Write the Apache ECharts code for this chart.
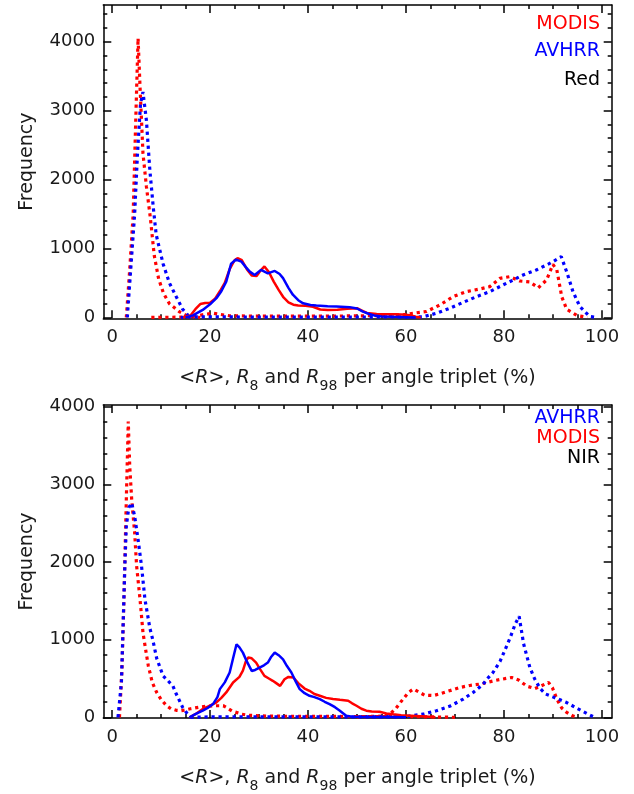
<!DOCTYPE html>
<html><head><meta charset="utf-8">
<script src="https://cdn.jsdelivr.net/npm/echarts@6/dist/echarts.min.js"></script>
<style>html,body{margin:0;padding:0;background:#fff}#c{width:634px;height:794px}</style>
</head><body><div id="c"></div><script>
// ---------- tick values ----------
const xMajorTicks = [0, 20, 40, 60, 80, 100];
const xMinorTicks = [5, 10, 15, 25, 30, 35, 45, 50, 55, 65, 70, 75, 85, 90, 95];
const yMajorTicks = [0, 1000, 2000, 3000, 4000];
const yMinorTicksTop = [200, 400, 600, 800, 1200, 1400, 1600, 1800, 2200, 2400, 2600, 2800, 3200, 3400, 3600, 3800, 4200, 4400];
const yMinorTicksBot = [200, 400, 600, 800, 1200, 1400, 1600, 1800, 2200, 2400, 2600, 2800, 3200, 3400, 3600, 3800];

// ---------- top panel (Red band) ----------
const topModisMean = [[14.5,0],[16,30],[17,120],[18,195],[19,210],[20,215],[21,270],[22,380],[23,500],[24,700],[25,830],[25.6,860],[26.5,830],[27.5,700],[28.5,610],[29.5,600],[30.3,680],[31.1,740],[32,660],[33,520],[34,400],[35,290],[36,220],[37,185],[38,175],[39.5,170],[41,155],[42.5,115],[44,108],[46,112],[48,125],[50,135],[51,100],[52,65],[54,50],[56,45],[58,48],[60,40],[61,30],[62,10],[63,0]];
const topAvhrrMean = [[15,0],[16.5,30],[18.5,110],[20,190],[21.3,280],[22.3,380],[23.3,520],[24.3,780],[25.3,840],[26.4,810],[27.3,730],[28.1,665],[29.1,615],[30.4,690],[31.8,640],[33.2,675],[34.2,630],[34.9,570],[36,430],[36.9,330],[38,250],[39,205],[40.5,180],[41.7,172],[44,162],[45.8,160],[48.5,150],[50,130],[51.2,85],[52.5,50],[53.5,30],[55,15],[57,10],[60,5],[62,0]];
const topModisR8 = [[2.9,0],[3.6,700],[4.3,1500],[4.8,2800],[5.3,4050],[5.7,3340],[6.3,2380],[7.0,1900],[7.8,1450],[8.6,900],[9.5,560],[10.5,350],[11.7,200],[13.8,80],[15,35],[16.5,10],[18,0]];
const topAvhrrR8 = [[3.1,0],[3.8,700],[4.6,1500],[5.2,2400],[5.8,3100],[6.3,3270],[7.0,2860],[7.7,2140],[8.4,1600],[9.0,1200],[10.4,780],[11.7,500],[13.1,300],[14.4,120],[15.5,30],[16.5,0]];
const topModisR98 = [[8,0],[14,5],[17,20],[19,45],[20.6,62],[22,45],[24,25],[28,20],[35,20],[45,20],[52,25],[57,30],[59.5,40],[61.4,61],[64.2,87],[66.9,181],[69.6,302],[72.3,374],[75.1,413],[77.1,447],[79.2,568],[81.2,592],[83.2,529],[85.3,515],[87,430],[88.7,544],[90,770],[90.8,690],[91.8,300],[92.8,120],[94.9,30],[97,0]];
const topAvhrrR98 = [[14,0],[16,10],[20,10],[30,5],[45,5],[55,8],[60,8],[63.5,10],[66.2,61],[68.9,133],[71.7,220],[74.4,302],[77.1,374],[79.8,471],[81.9,544],[83.9,616],[86.6,689],[88.7,761],[90,809],[91.7,882],[92.8,664],[94.1,374],[95.5,157],[97.5,15],[99,0]];

// ---------- bottom panel (NIR band) ----------
const botModisMean = [[15.8,0],[17,40],[18.5,107],[20,150],[21.3,192],[22.3,250],[23.3,320],[24.7,449],[26,520],[26.7,600],[27.3,720],[27.8,770],[28.5,760],[29.4,705],[30.2,620],[31.1,533],[32,500],[32.8,470],[33.5,440],[34.3,405],[35.2,490],[36,520],[37,513],[38,440],[39.3,370],[40.3,341],[41.3,300],[42.4,277],[43.7,250],[45.1,235],[46.5,225],[48.2,213],[49,180],[49.9,149],[50.9,110],[51.9,85],[53,75],[54.6,72],[56,50],[57.4,38],[59,25],[61,20],[64,10],[66,0]];
const botAvhrrMean = [[15.8,0],[17,40],[18.5,85],[19.5,120],[20.6,170],[21.5,260],[22,363],[23,450],[24,577],[24.7,760],[25.4,940],[26,900],[26.7,833],[27.5,720],[28.5,597],[29.2,610],[30.1,641],[31,670],[31.8,705],[32.5,780],[33.2,833],[34,800],[34.9,747],[35.7,660],[36.6,577],[37.5,460],[38.3,363],[39.3,310],[40.3,277],[41.3,260],[42.4,235],[43.4,200],[44.4,170],[45.5,130],[46.5,85],[47.2,50],[47.8,20],[49,8],[52,5],[57,3],[60,0]];
const botModisR8 = [[1.5,0],[2.0,600],[2.4,1500],[2.9,2800],[3.3,3810],[3.6,3230],[4.0,2800],[4.6,2380],[5.0,1950],[5.7,1520],[6.3,1090],[6.9,850],[7.4,660],[8.2,450],[9.1,320],[10,230],[11.1,150],[12,110],[13.1,90],[14,85],[15,95],[16,110],[17.6,128],[19,140],[20.6,149],[22.7,149],[23.3,128],[24.5,80],[25.5,60],[26.5,40],[28,25],[32,15],[40,12],[50,10],[60,10],[65,5],[70,0]];
const botAvhrrR8 = [[1.2,0],[1.9,450],[2.2,1090],[2.6,1950],[2.9,2460],[3.4,2700],[4.0,2760],[4.6,2590],[5.3,2290],[6.0,1950],[6.7,1520],[7.7,1150],[8.3,1000],[9.1,760],[10.4,534],[11.1,491],[12.4,405],[13.1,300],[14.4,128],[15.9,0]];
const botModisR98 = [[50,5],[55,15],[56.7,40],[58,120],[59.4,235],[60.5,320],[61.5,363],[62.8,320],[63.8,285],[65.6,280],[66.8,300],[68.3,330],[71,384],[73,410],[75.1,427],[77.9,470],[79.5,490],[81.6,513],[83,480],[84.7,400],[86.3,370],[87.3,395],[89.1,449],[89.9,380],[90.8,235],[91.8,120],[92.8,64],[94,20],[95,0]];
const botAvhrrR98 = [[16,0],[20,5],[40,5],[58,5],[60,10],[63.5,40],[66.2,85],[68.9,141],[71.7,235],[73.7,320],[75.7,420],[76.5,490],[77.8,580],[79.2,720],[80.3,880],[81.3,1030],[82.3,1200],[83.1,1300],[84,950],[85.3,640],[86.3,490],[87.4,370],[88.5,300],[90.1,260],[92.8,190],[94.5,130],[96.9,50],[98.5,0]];

// ---------- texts ----------
const topLegend = [['MODIS', '#ff0000'], ['AVHRR', '#0000ff'], ['Red', '#000000']];
const botLegend = [['AVHRR', '#0000ff'], ['MODIS', '#ff0000'], ['NIR', '#000000']];
const xTitle = '<{it|R}>, {it|R}{sub|8} and {it|R}{sub|98} per angle triplet (%)';
const yTitle = 'Frequency';

const RED = '#ff0000', BLUE = '#0000ff';
const FONT = 'DejaVu Sans';
const TXT = '#1a1a1a';

const chart = echarts.init(document.getElementById('c'), null, {renderer: 'canvas'});

const grids = [
  {left: 103.3, right: 22.3, top: 5, height: 313.3},
  {left: 103.3, right: 22.3, top: 405, height: 314}
];
const yRanges = [[-12, 4532], [-9, 4022]];
const yMinors = [yMinorTicksTop, yMinorTicksBot];
const plainNum = v => String(v);

const lineSt = {color: '#000', width: 1.5};
function xAxes(g) {
  const base = {type: 'value', gridIndex: g, min: -1.8, max: 102, splitLine: {show: false}};
  return [
    Object.assign({}, base, {position: 'bottom',
      axisLine: {show: true, onZero: false, lineStyle: lineSt},
      axisTick: {show: true, inside: true, length: 8, customValues: xMajorTicks, lineStyle: lineSt},
      axisLabel: {show: true, customValues: xMajorTicks, formatter: plainNum, margin: 10, fontSize: 18, fontFamily: FONT, color: TXT},
      name: xTitle, nameLocation: 'middle', nameGap: 45,
      nameTextStyle: {fontSize: 19, fontFamily: FONT, color: TXT, lineHeight: 30,
        rich: {it: {fontStyle: 'italic', fontSize: 19, fontFamily: FONT, color: TXT, lineHeight: 30},
               sub: {fontSize: 14, fontFamily: FONT, color: TXT, lineHeight: 14, verticalAlign: 'bottom'}}}
    }),
    Object.assign({}, base, {position: 'bottom',
      axisLine: {show: false, onZero: false},
      axisTick: {show: true, inside: true, length: 4, customValues: xMinorTicks, lineStyle: lineSt},
      axisLabel: {show: false}}),
    Object.assign({}, base, {position: 'top',
      axisLine: {show: true, onZero: false, lineStyle: lineSt},
      axisTick: {show: true, inside: true, length: 8, customValues: xMajorTicks, lineStyle: lineSt},
      axisLabel: {show: false}}),
    Object.assign({}, base, {position: 'top',
      axisLine: {show: false, onZero: false},
      axisTick: {show: true, inside: true, length: 4, customValues: xMinorTicks, lineStyle: lineSt},
      axisLabel: {show: false}})
  ];
}
function yAxes(g) {
  const base = {type: 'value', gridIndex: g, min: yRanges[g][0], max: yRanges[g][1], splitLine: {show: false}};
  return [
    Object.assign({}, base, {position: 'left',
      axisLine: {show: true, onZero: false, lineStyle: lineSt},
      axisTick: {show: true, inside: true, length: 8, customValues: yMajorTicks, lineStyle: lineSt},
      axisLabel: {show: true, customValues: yMajorTicks, formatter: plainNum, margin: 8, fontSize: 18, fontFamily: FONT, color: TXT},
      name: yTitle, nameLocation: 'middle', nameGap: 67,
      nameTextStyle: {fontSize: 19, fontFamily: FONT, color: TXT}}),
    Object.assign({}, base, {position: 'left',
      axisLine: {show: false, onZero: false},
      axisTick: {show: true, inside: true, length: 4, customValues: yMinors[g], lineStyle: lineSt},
      axisLabel: {show: false}}),
    Object.assign({}, base, {position: 'right',
      axisLine: {show: true, onZero: false, lineStyle: lineSt},
      axisTick: {show: true, inside: true, length: 8, customValues: yMajorTicks, lineStyle: lineSt},
      axisLabel: {show: false}}),
    Object.assign({}, base, {position: 'right',
      axisLine: {show: false, onZero: false},
      axisTick: {show: true, inside: true, length: 4, customValues: yMinors[g], lineStyle: lineSt},
      axisLabel: {show: false}})
  ];
}

function ser(name, data, color, dotted, g) {
  return {
    type: 'line', name: name, data: data,
    xAxisIndex: g * 4, yAxisIndex: g * 4,
    symbol: 'none', showSymbol: false, smooth: false, animation: false,
    lineStyle: dotted ? {color: color, width: 3.2, type: [3.2, 3.8]} : {color: color, width: 2.5},
    emphasis: {disabled: true}, z: dotted ? 2 : 3
  };
}

const series = [
  ser('MODIS R8', topModisR8, RED, true, 0),
  ser('MODIS R98', topModisR98, RED, true, 0),
  ser('AVHRR R8', topAvhrrR8, BLUE, true, 0),
  ser('AVHRR R98', topAvhrrR98, BLUE, true, 0),
  ser('MODIS <R>', topModisMean, RED, false, 0),
  ser('AVHRR <R>', topAvhrrMean, BLUE, false, 0),
  ser('MODIS R8', botModisR8, RED, true, 1),
  ser('MODIS R98', botModisR98, RED, true, 1),
  ser('AVHRR R8', botAvhrrR8, BLUE, true, 1),
  ser('AVHRR R98', botAvhrrR98, BLUE, true, 1),
  ser('MODIS <R>', botModisMean, RED, false, 1),
  ser('AVHRR <R>', botAvhrrMean, BLUE, false, 1)
];

const graphic = [];
const topY = [25.5, 53, 81.5];
topLegend.forEach((it, i) => graphic.push({type: 'text', right: 34, top: topY[i] - 11,
  style: {text: it[0], fill: it[1], fontSize: 19, fontFamily: FONT}}));
const botY = [420, 440, 459.5];
botLegend.forEach((it, i) => graphic.push({type: 'text', right: 34, top: botY[i] - 11,
  style: {text: it[0], fill: it[1], fontSize: 19, fontFamily: FONT}}));

chart.setOption({
  animation: false,
  backgroundColor: '#ffffff',
  grid: grids,
  xAxis: [].concat(xAxes(0), xAxes(1)),
  yAxis: [].concat(yAxes(0), yAxes(1)),
  series: series,
  graphic: graphic
});
</script></body></html>
